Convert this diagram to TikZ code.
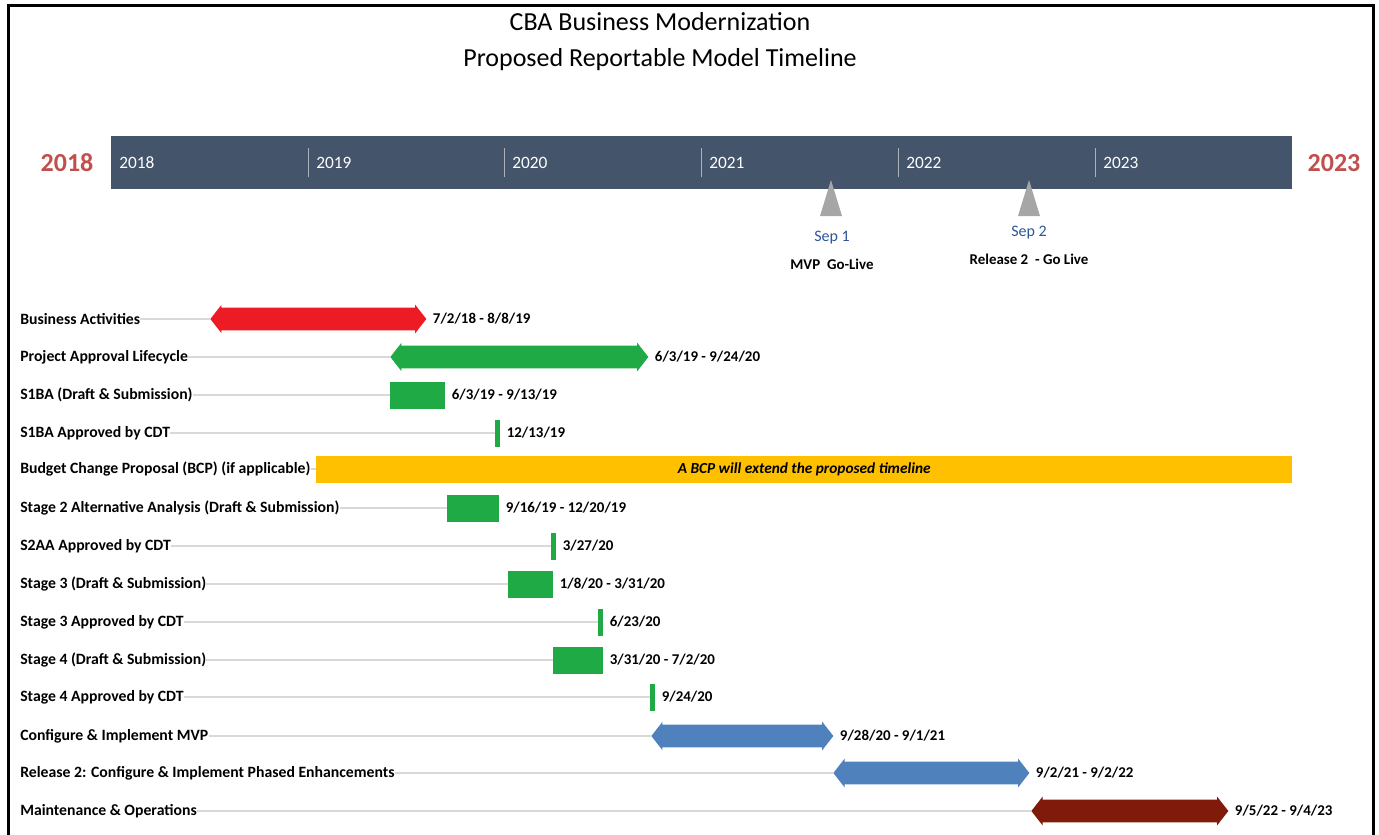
\documentclass[tikz,border=0pt]{standalone}
\usepackage{fontspec}
\setmainfont{Carlito}
\usetikzlibrary{shapes.arrows, positioning}
\definecolor{slate}{HTML}{44546A}
\definecolor{yearred}{HTML}{C0504D}
\definecolor{actred}{HTML}{ED1C24}
\definecolor{stagegreen}{RGB}{31,170,69}
\definecolor{bcporange}{HTML}{FFC000}
\definecolor{implblue}{HTML}{4F81BD}
\definecolor{opsred}{RGB}{128,26,10}
\definecolor{markgray}{HTML}{A6A6A6}
\definecolor{sepblue}{RGB}{47,85,151}
\definecolor{rowline}{HTML}{D9D9D9}

\begin{document}
\begin{tikzpicture}[x=0.75pt, y=-0.75pt, title/.style={font=\fontsize{19.5}{22}\selectfont}, big/.style={font=\bfseries\fontsize{19.5}{24}\selectfont, text=yearred}, yr/.style={anchor=west, inner sep=0pt, text=white, font=\fontsize{13}{15}\selectfont}, task/.style={anchor=west, inner sep=0pt, font=\bfseries\fontsize{11.8}{13}\selectfont}, date/.style={inner sep=0pt, font=\bfseries\fontsize{11.2}{13}\selectfont}, dbl/.style={double arrow, double arrow head extend=2.25pt, double arrow tip angle=104, inner xsep=0pt, inner ysep=8.25pt, anchor=west}, bar/.style={rectangle, inner sep=0pt, minimum height=20.25pt, anchor=west}, link/.style={draw=rowline, line width=0.9pt}, tick/.style={draw=slate!45!white, line width=0.6pt}]
            \useasboundingbox (0,0) rectangle (1379,835);
            \draw[line width=2.25pt] (8.5,835) -- (8.5,5.5) -- (1373,5.5) -- (1373,835);
            % title
            \node[title] (t1) at (660,22) {CBA Business Modernization};
            \node[title] (t2) at (660,60) {Proposed Reportable Model Timeline};
            % time band
            \node[rectangle, fill=slate, minimum width=885.75pt, minimum height=39.75pt, inner sep=0pt] (band) at (701.5,162.5) {};
            \node[big] (y0) at (67,163) {2018};
            \node[big] (y5) at (1334,163) {2023};
            \draw[tick] (308,148) -- (308,177);
            \draw[tick] (504,148) -- (504,177);
            \draw[tick] (701,148) -- (701,177);
            \draw[tick] (898,148) -- (898,177);
            \draw[tick] (1095,148) -- (1095,177);
            \node[yr] (l18) at (119,163) {2018};
            \node[yr] (l19) at (316,163) {2019};
            \node[yr] (l20) at (512,163) {2020};
            \node[yr] (l21) at (709,163) {2021};
            \node[yr] (l22) at (906,163) {2022};
            \node[yr] (l23) at (1103,163) {2023};
            % milestones
            \coordinate (m1) at (831,180);
            \coordinate (m2) at (1029,180);
            \fill[markgray] (m1) -- ++(11,36) -- ++(-22,0) -- cycle;
            \fill[markgray] (m2) -- ++(11,36) -- ++(-22,0) -- cycle;
            \node[text=sepblue, font=\fontsize{12}{14}\selectfont] (s1) at (832,238) {Sep 1};
            \node[date] (g1) at (832,264) {MVP~~Go-Live};
            \node[text=sepblue, font=\fontsize{12}{14}\selectfont] (s2) at (1029,233) {Sep 2};
            \node[date] (g2) at (1029,259) {Release 2~~- Go Live};
            % rows
            \node[task] (BA) at (20,319) {Business Activities};
            \node[dbl, fill=actred, minimum height=162pt] (bBA) at (210,319) {};
            \node[date, right=4.5pt of bBA] {7/2/18 - 8/8/19};
            \node[task] (PAL) at (20,357) {Project Approval Lifecycle};
            \node[dbl, fill=stagegreen, minimum height=193.5pt] (bPAL) at (390,357) {};
            \node[date, right=4.5pt of bPAL] {6/3/19 - 9/24/20};
            \node[task] (S1) at (20,395) {S1BA (Draft \& Submission)};
            \node[bar, fill=stagegreen, minimum width=41.25pt] (bS1) at (390,395) {};
            \node[date, right=4.5pt of bS1] {6/3/19 - 9/13/19};
            \node[task] (S1ok) at (20,433) {S1BA Approved by CDT};
            \node[bar, fill=stagegreen, minimum width=3.75pt] (bS1ok) at (495,433) {};
            \node[date, right=4.5pt of bS1ok] {12/13/19};
            \node[task] (BCP) at (20,469) {Budget Change Proposal (BCP) (if applicable)};
            \node[bar, fill=bcporange, minimum width=732pt, font=\bfseries\itshape\fontsize{11.5}{13}\selectfont] (bBCP) at (316,469) {A BCP will extend the proposed timeline};
            \node[task] (S2) at (20,508) {Stage 2 Alternative Analysis (Draft \& Submission)};
            \node[bar, fill=stagegreen, minimum width=39pt] (bS2) at (447,508) {};
            \node[date, right=4.5pt of bS2] {9/16/19 - 12/20/19};
            \node[task] (S2ok) at (20,546) {S2AA Approved by CDT};
            \node[bar, fill=stagegreen, minimum width=3.75pt] (bS2ok) at (551,546) {};
            \node[date, right=4.5pt of bS2ok] {3/27/20};
            \node[task] (S3) at (20,584) {Stage 3 (Draft \& Submission)};
            \node[bar, fill=stagegreen, minimum width=33.75pt] (bS3) at (508,584) {};
            \node[date, right=4.5pt of bS3] {1/8/20 - 3/31/20};
            \node[task] (S3ok) at (20,622) {Stage 3 Approved by CDT};
            \node[bar, fill=stagegreen, minimum width=3.75pt] (bS3ok) at (598,622) {};
            \node[date, right=4.5pt of bS3ok] {6/23/20};
            \node[task] (S4) at (20,660) {Stage 4 (Draft \& Submission)};
            \node[bar, fill=stagegreen, minimum width=37.5pt] (bS4) at (553,660) {};
            \node[date, right=4.5pt of bS4] {3/31/20 - 7/2/20};
            \node[task] (S4ok) at (20,697) {Stage 4 Approved by CDT};
            \node[bar, fill=stagegreen, minimum width=3.75pt] (bS4ok) at (650,697) {};
            \node[date, right=4.5pt of bS4ok] {9/24/20};
            \node[task] (MVP) at (20,736) {Configure \& Implement MVP};
            \node[dbl, fill=implblue, minimum height=136.5pt] (bMVP) at (651,736) {};
            \node[date, right=4.5pt of bMVP] {9/28/20 - 9/1/21};
            \node[task] (R2) at (20,773) {Release 2: Configure \& Implement Phased Enhancements};
            \node[dbl, fill=implblue, minimum height=147pt] (bR2) at (833,773) {};
            \node[date, right=4.5pt of bR2] {9/2/21 - 9/2/22};
            \node[task] (MO) at (20,811) {Maintenance \& Operations};
            \node[dbl, fill=opsred, minimum height=147.75pt] (bMO) at (1031,811) {};
            \node[date, right=4.5pt of bMO] {9/5/22 - 9/4/23};
            % links
            \draw[link] (BA) -- (bBA);
            \draw[link] (PAL) -- (bPAL);
            \draw[link] (S1) -- (bS1);
            \draw[link] (S1ok) -- (bS1ok);
            \draw[link] (BCP) -- (bBCP);
            \draw[link] (S2) -- (bS2);
            \draw[link] (S2ok) -- (bS2ok);
            \draw[link] (S3) -- (bS3);
            \draw[link] (S3ok) -- (bS3ok);
            \draw[link] (S4) -- (bS4);
            \draw[link] (S4ok) -- (bS4ok);
            \draw[link] (MVP) -- (bMVP);
            \draw[link] (R2) -- (bR2);
            \draw[link] (MO) -- (bMO);
        \end{tikzpicture}
\end{document}
